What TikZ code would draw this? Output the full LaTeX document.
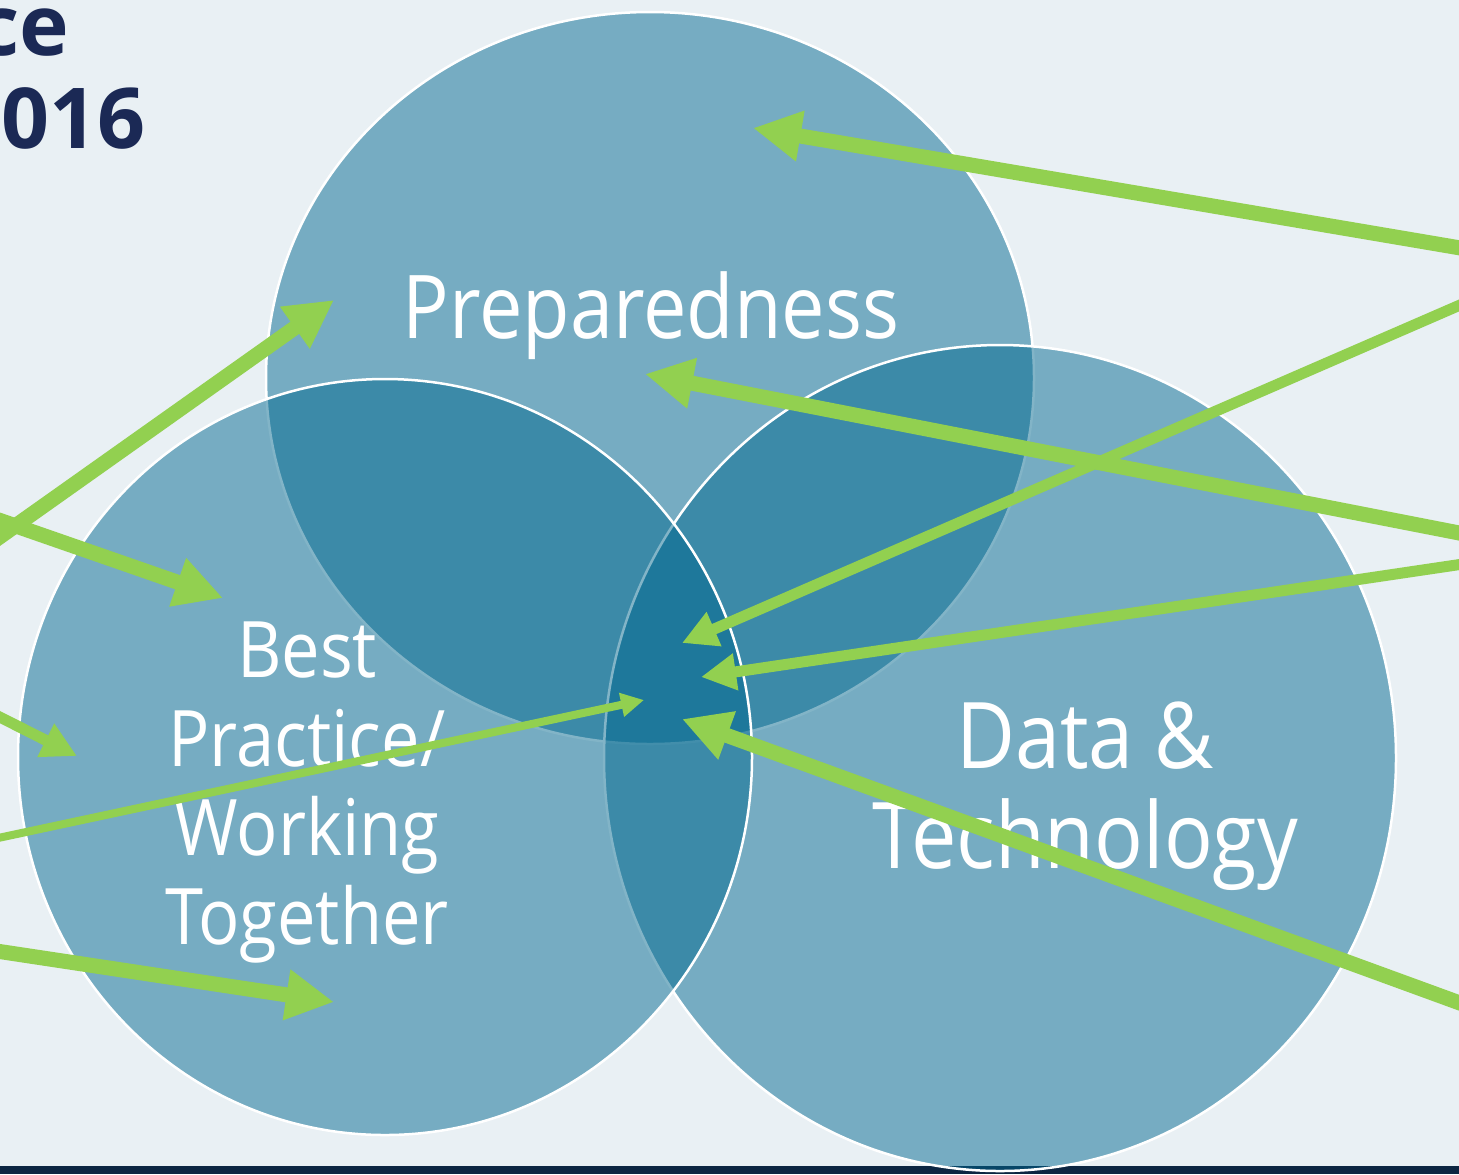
\documentclass[tikz,border=0pt]{standalone}
\usepackage{fontspec}
\setmainfont{Open Sans}[FakeStretch=0.88]
\newfontfamily\headfont{Open Sans}
\usepackage{xcolor}
\usepackage{tikz}
\usetikzlibrary{arrows.meta}

\definecolor{pagebg}{RGB}{233,240,244}
\definecolor{vennblue}{RGB}{0,103,142}
\definecolor{arrowgreen}{RGB}{146,208,80}
\definecolor{titlenavy}{RGB}{27,41,85}
\definecolor{footnavy}{RGB}{12,38,66}

\begin{document}
\begin{tikzpicture}[x=0.5pt,y=-0.5pt,
      venncircle/.style={
         fill=vennblue,
         fill opacity=0.49,
         draw=white,
         line width=1.25pt},
      venntext/.style={
         text=white,
         align=center,
         inner sep=0pt},
      titletext/.style={
         text=titlenavy,
         inner sep=0pt,
         anchor=base east,
         font=\headfont\fontsize{42}{46}\selectfont\bfseries},
      thickarrow/.style={draw=arrowgreen,line width=7.5pt,-{Triangle[length=24pt,width=24pt]}},
      midarrow/.style={draw=arrowgreen,line width=5.5pt,-{Triangle[length=17.5pt,width=17.5pt]}},
      thinarrow/.style={draw=arrowgreen,line width=4pt,-{Triangle[length=11.5pt,width=11.5pt]}}
      ]
      \useasboundingbox (0,0) rectangle (1459,1174);
      \clip (0,0) rectangle (1459,1174);
      \fill[pagebg] (0,0) rectangle (1459,1174);
      \fill[footnavy] (0,1166) rectangle (1459,1174);

      % the three sets, drawn top, right, left
      \draw[venncircle] (650,378) ellipse [x radius=384, y radius=366];
      \draw[venncircle] (1000,758) ellipse [x radius=396, y radius=413];
      \draw[venncircle] (385,757) ellipse [x radius=367, y radius=378];

      \node[venntext,anchor=base,font=\fontsize{44}{50}\selectfont] (prep) at (651,338) {Preparedness};
      \node[venntext,font=\fontsize{39}{44.5}\selectfont] (best) at (307,793) {Best\\Practice/\\Working\\Together};
      \node[venntext,font=\fontsize{46}{50}\selectfont] (data) at (1085,796) {Data \&\\Technology};

      \node[titletext] (title1) at (70,55) {ce};
      \node[titletext] (title2) at (146,148) {016};

      % arrow ends off the page edges
      \coordinate (e1) at (1490,253);
      \coordinate (e2) at (1490,292);
      \coordinate (e3) at (1490,539);
      \coordinate (e4) at (1490,560);
      \coordinate (e5) at (1490,1014);
      \coordinate (w1) at (-30,558);
      \coordinate (w2) at (-30,510);
      \coordinate (w3) at (-30,702);
      \coordinate (w4) at (-30,844);
      \coordinate (w5) at (-30,947);
      % arrow tips
      \coordinate (prep1) at (753,128);
      \coordinate (prep2) at (645,374);
      \coordinate (prep3) at (334,300);
      \coordinate (mid1) at (682,643);
      \coordinate (mid2) at (701,677);
      \coordinate (mid3) at (682,719);
      \coordinate (mid4) at (644,700);
      \coordinate (best1) at (223,598);
      \coordinate (best2) at (77,756);
      \coordinate (best3) at (334,1002);

    \foreach \i/\j/\st in {% from/to/style
      e1/prep1/thickarrow,
      e2/mid1/midarrow,
      e3/prep2/thickarrow,
      e4/mid2/midarrow,
      e5/mid3/thickarrow,
      w1/prep3/thickarrow,
      w2/best1/thickarrow,
      w3/best2/midarrow,
      w4/mid4/thinarrow,
      w5/best3/thickarrow}
       \draw [\st] (\i) -- (\j);
\end{tikzpicture}
\end{document}
